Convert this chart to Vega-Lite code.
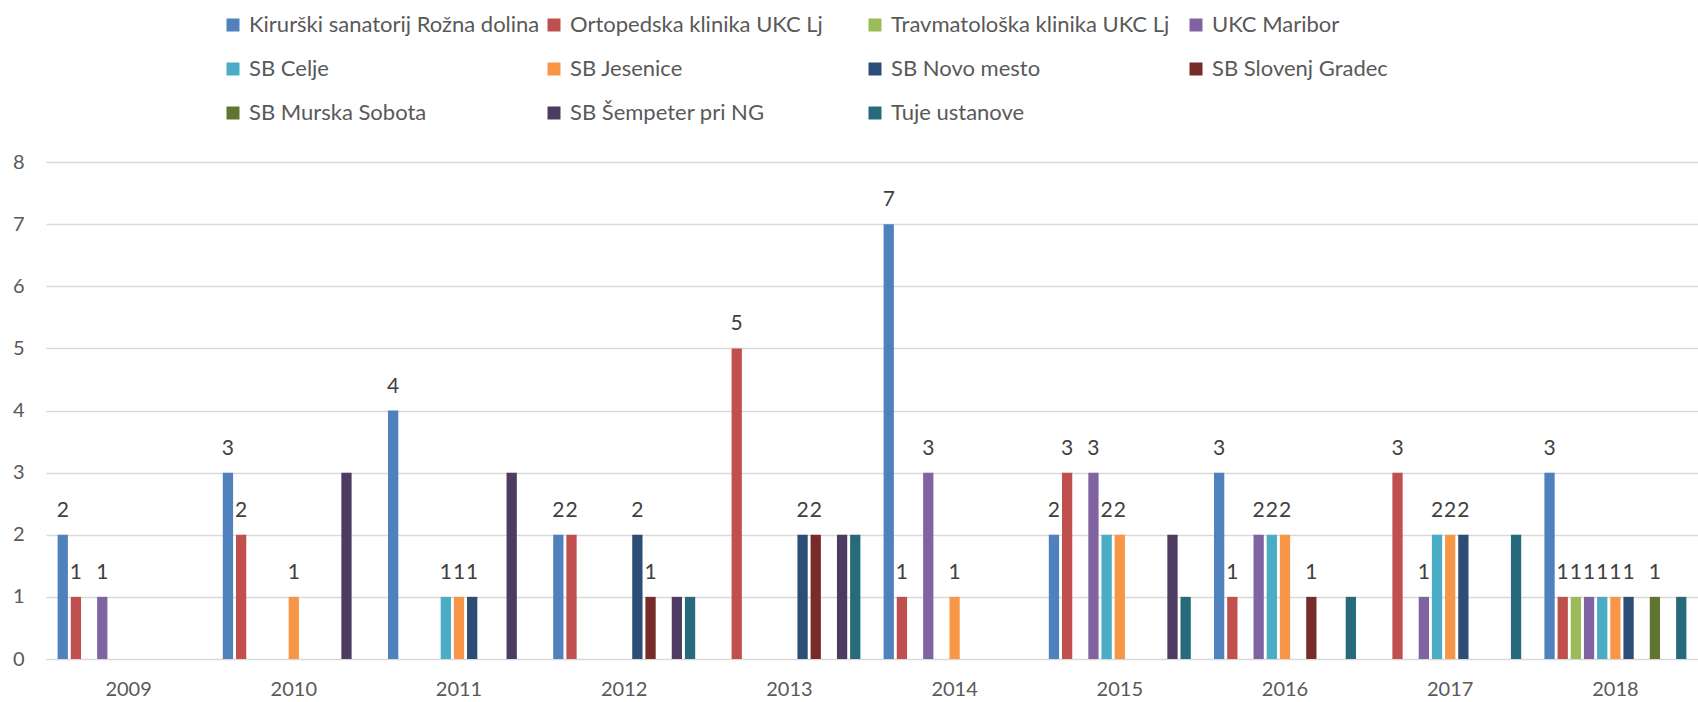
{
  "$schema": "https://vega.github.io/schema/vega-lite/v6.json",
  "width": 1652,
  "height": 497,
  "autosize": {"type": "none"},
  "padding": {"left": 46, "top": 162, "right": 0, "bottom": 43},
  "background": "white",
  "config": {"view": {"stroke": null}, "font": "Lato"},
  "data": {
    "values": [
      {"year": "2009", "series": "Kirurški sanatorij Rožna dolina", "value": 2},
      {"year": "2009", "series": "Ortopedska klinika UKC Lj", "value": 1},
      {"year": "2009", "series": "UKC Maribor", "value": 1},
      {"year": "2010", "series": "Kirurški sanatorij Rožna dolina", "value": 3},
      {"year": "2010", "series": "Ortopedska klinika UKC Lj", "value": 2},
      {"year": "2010", "series": "SB Jesenice", "value": 1},
      {"year": "2010", "series": "SB Šempeter pri NG", "value": 3},
      {"year": "2011", "series": "Kirurški sanatorij Rožna dolina", "value": 4},
      {"year": "2011", "series": "SB Celje", "value": 1},
      {"year": "2011", "series": "SB Jesenice", "value": 1},
      {"year": "2011", "series": "SB Novo mesto", "value": 1},
      {"year": "2011", "series": "SB Šempeter pri NG", "value": 3},
      {"year": "2012", "series": "Kirurški sanatorij Rožna dolina", "value": 2},
      {"year": "2012", "series": "Ortopedska klinika UKC Lj", "value": 2},
      {"year": "2012", "series": "SB Novo mesto", "value": 2},
      {"year": "2012", "series": "SB Slovenj Gradec", "value": 1},
      {"year": "2012", "series": "SB Šempeter pri NG", "value": 1},
      {"year": "2012", "series": "Tuje ustanove", "value": 1},
      {"year": "2013", "series": "Ortopedska klinika UKC Lj", "value": 5},
      {"year": "2013", "series": "SB Novo mesto", "value": 2},
      {"year": "2013", "series": "SB Slovenj Gradec", "value": 2},
      {"year": "2013", "series": "SB Šempeter pri NG", "value": 2},
      {"year": "2013", "series": "Tuje ustanove", "value": 2},
      {"year": "2014", "series": "Kirurški sanatorij Rožna dolina", "value": 7},
      {"year": "2014", "series": "Ortopedska klinika UKC Lj", "value": 1},
      {"year": "2014", "series": "UKC Maribor", "value": 3},
      {"year": "2014", "series": "SB Jesenice", "value": 1},
      {"year": "2015", "series": "Kirurški sanatorij Rožna dolina", "value": 2},
      {"year": "2015", "series": "Ortopedska klinika UKC Lj", "value": 3},
      {"year": "2015", "series": "UKC Maribor", "value": 3},
      {"year": "2015", "series": "SB Celje", "value": 2},
      {"year": "2015", "series": "SB Jesenice", "value": 2},
      {"year": "2015", "series": "SB Šempeter pri NG", "value": 2},
      {"year": "2015", "series": "Tuje ustanove", "value": 1},
      {"year": "2016", "series": "Kirurški sanatorij Rožna dolina", "value": 3},
      {"year": "2016", "series": "Ortopedska klinika UKC Lj", "value": 1},
      {"year": "2016", "series": "UKC Maribor", "value": 2},
      {"year": "2016", "series": "SB Celje", "value": 2},
      {"year": "2016", "series": "SB Jesenice", "value": 2},
      {"year": "2016", "series": "SB Slovenj Gradec", "value": 1},
      {"year": "2016", "series": "Tuje ustanove", "value": 1},
      {"year": "2017", "series": "Ortopedska klinika UKC Lj", "value": 3},
      {"year": "2017", "series": "UKC Maribor", "value": 1},
      {"year": "2017", "series": "SB Celje", "value": 2},
      {"year": "2017", "series": "SB Jesenice", "value": 2},
      {"year": "2017", "series": "SB Novo mesto", "value": 2},
      {"year": "2017", "series": "Tuje ustanove", "value": 2},
      {"year": "2018", "series": "Kirurški sanatorij Rožna dolina", "value": 3},
      {"year": "2018", "series": "Ortopedska klinika UKC Lj", "value": 1},
      {"year": "2018", "series": "Travmatološka klinika UKC Lj", "value": 1},
      {"year": "2018", "series": "UKC Maribor", "value": 1},
      {"year": "2018", "series": "SB Celje", "value": 1},
      {"year": "2018", "series": "SB Jesenice", "value": 1},
      {"year": "2018", "series": "SB Novo mesto", "value": 1},
      {"year": "2018", "series": "SB Murska Sobota", "value": 1},
      {"year": "2018", "series": "Tuje ustanove", "value": 1}
    ]
  },
  "encoding": {
    "x": {
      "field": "year",
      "type": "nominal",
      "scale": {"paddingInner": 0.123, "paddingOuter": 0.0615},
      "axis": {"title": null, "labelAngle": 0, "domain": false, "ticks": false, "labelFontSize": 20, "labelColor": "#595959", "labelPadding": 20}
    },
    "xOffset": {
      "field": "series",
      "type": "nominal",
      "scale": {
        "domain": ["Kirurški sanatorij Rožna dolina", "Ortopedska klinika UKC Lj", "Travmatološka klinika UKC Lj", "UKC Maribor", "SB Celje", "SB Jesenice", "SB Novo mesto", "SB Slovenj Gradec", "SB Murska Sobota", "SB Šempeter pri NG", "Tuje ustanove"],
        "paddingInner": 0.22,
        "paddingOuter": 0.11
      }
    },
    "y": {
      "field": "value",
      "type": "quantitative",
      "scale": {"domain": [0, 8], "nice": false},
      "axis": {"title": null, "values": [0, 1, 2, 3, 4, 5, 6, 7, 8], "domain": false, "ticks": false, "gridColor": "#D9D9D9", "gridWidth": 1.5, "labelFontSize": 20, "labelPadding": 22, "labelColor": "#595959"}
    }
  },
  "layer": [
    {
      "mark": {"type": "bar"},
      "encoding": {
        "color": {
          "field": "series",
          "type": "nominal",
          "scale": {
            "domain": ["Kirurški sanatorij Rožna dolina", "Ortopedska klinika UKC Lj", "Travmatološka klinika UKC Lj", "UKC Maribor", "SB Celje", "SB Jesenice", "SB Novo mesto", "SB Slovenj Gradec", "SB Murska Sobota", "SB Šempeter pri NG", "Tuje ustanove"],
            "range": ["#4F81BD", "#C0504D", "#9BBB59", "#8064A2", "#4BACC6", "#F79646", "#2C4D75", "#772C2A", "#5F7530", "#4D3B62", "#276A7C"]
          },
          "legend": {
            "title": null,
            "orient": "none",
            "direction": "horizontal",
            "legendX": 176,
            "legendY": -148,
            "columns": 4,
            "gridAlign": "all",
            "symbolType": "square",
            "symbolSize": 169,
            "symbolStrokeWidth": 0,
            "labelFontSize": 22,
            "labelColor": "#595959",
            "labelLimit": 400,
            "labelOffset": 5,
            "rowPadding": 22,
            "columnPadding": 3
          }
        }
      }
    },
    {
      "transform": [{"filter": "datum.series != 'SB Šempeter pri NG' && datum.series != 'Tuje ustanove'"}],
      "mark": {"type": "text", "baseline": "alphabetic", "dy": -18, "fontSize": 21, "color": "#404040"},
      "encoding": {"text": {"field": "value", "type": "quantitative"}}
    }
  ]
}
